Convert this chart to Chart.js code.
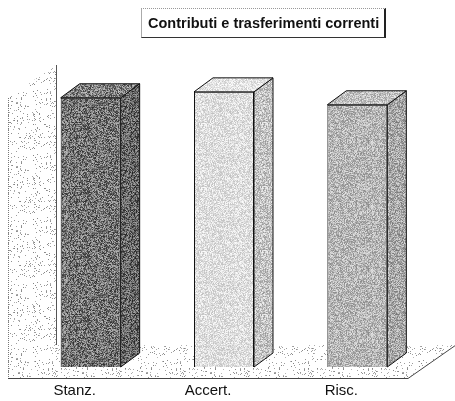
<!DOCTYPE html>
<html>
<head>
<meta charset="utf-8">
<script src="https://cdn.jsdelivr.net/npm/chart.js@4/dist/chart.umd.min.js"></script>
<style>
  html, body { margin: 0; padding: 0; background: #fff; }
  #wrap { position: relative; width: 455px; height: 401px; }
  #grafico { position: absolute; left: 0; top: 0; }
  #titolo {
    position: absolute; left: 141px; top: 8px;
    padding: 6px 5px 6px 6px;
    font: bold 14.5px "Liberation Sans", Arial, sans-serif;
    color: #111;
    border-top: 1px dotted #999;
    border-left: 1px solid #aaa;
    border-right: 2px solid #222;
    border-bottom: 1px solid #333;
    white-space: nowrap;
  }
</style>
</head>
<body>
<div id="wrap">
  <canvas id="grafico" width="455" height="401"></canvas>
  <div id="titolo">Contributi e trasferimenti correnti</div>
</div>
<script>
// Dati (valori relativi, nessun asse visibile)
const categorie = ["Stanz.", "Accert.", "Risc."];
const valori = [100, 102.2, 97.4];
const massimoAsse = 104;

// Retino a puntini (deterministico)
function hash(x, y) {
  let n = Math.imul(x, 374761393) + Math.imul(y, 668265263);
  n = Math.imul(n ^ (n >>> 13), 1274126177);
  n = n ^ (n >>> 16);
  return (n >>> 0) / 4294967296;
}
function retino(base, amp, seed) {
  const c = document.createElement("canvas");
  c.width = 64; c.height = 64;
  const g = c.getContext("2d");
  const img = g.createImageData(64, 64);
  for (let y = 0; y < 64; y++) {
    for (let x = 0; x < 64; x++) {
      let v = base + (hash(x + seed, y * 3 + seed) - 0.5) * amp;
      v = Math.max(0, Math.min(255, v));
      const i = (y * 64 + x) * 4;
      img.data[i] = img.data[i + 1] = img.data[i + 2] = v;
      img.data[i + 3] = 255;
    }
  }
  g.putImageData(img, 0, 0);
  return g.createPattern(c, "repeat");
}
function puntiniRadi(densita, seed) {
  const c = document.createElement("canvas");
  c.width = 64; c.height = 64;
  const g = c.getContext("2d");
  const img = g.createImageData(64, 64);
  for (let y = 0; y < 64; y++) {
    for (let x = 0; x < 64; x++) {
      const h = hash(x + seed, y + seed * 7);
      const v = h < densita ? 130 + h * 700 : 255;
      const i = (y * 64 + x) * 4;
      img.data[i] = img.data[i + 1] = img.data[i + 2] = Math.min(255, v);
      img.data[i + 3] = 255;
    }
  }
  g.putImageData(img, 0, 0);
  return g.createPattern(c, "repeat");
}

const ctx = document.getElementById("grafico").getContext("2d");

const fronte = [retino(115, 140, 1), retino(222, 60, 2), retino(182, 90, 3)];
const lato = [retino(100, 130, 4), retino(195, 90, 5), retino(168, 100, 6)];
const cima = [retino(128, 140, 7), retino(228, 55, 8), retino(195, 85, 9)];
const pavimento = puntiniRadi(0.08, 11);
const parete = puntiniRadi(0.07, 13);

// profondità della scena e delle barre
const prof = { dx: 48, dy: -33 };
const profBarra = { dx: 19, dy: -14 };

function poligono(c, punti, fill, stroke) {
  c.beginPath();
  c.moveTo(punti[0][0], punti[0][1]);
  for (let k = 1; k < punti.length; k++) c.lineTo(punti[k][0], punti[k][1]);
  c.closePath();
  if (fill) { c.fillStyle = fill; c.fill(); }
  if (stroke) { c.strokeStyle = stroke; c.lineWidth = 1; c.stroke(); }
}

const scena3d = {
  id: "scena3d",
  beforeDatasetsDraw(chart) {
    const c = chart.ctx;
    const a = chart.chartArea;
    const fx = -prof.dx / 3, fy = -prof.dy / 3;      // piano anteriore
    const bx = prof.dx * 2 / 3, by = prof.dy * 2 / 3; // piano posteriore
    const yTop = chart.scales.y.getPixelForValue(massimoAsse);
    c.save();
    // parete sinistra
    poligono(c, [
      [a.left + fx, yTop + fy], [a.left + bx, yTop + by],
      [a.left + bx, a.bottom + by], [a.left + fx, a.bottom + fy]
    ], parete, null);
    c.setLineDash([1, 1]);
    c.strokeStyle = "#777";
    c.beginPath();
    c.moveTo(a.left + fx + 0.5, yTop + fy);
    c.lineTo(a.left + fx + 0.5, a.bottom + fy);
    c.stroke();
    c.setLineDash([]);
    c.strokeStyle = "#555";
    c.beginPath();
    c.moveTo(a.left + bx + 0.5, yTop + by);
    c.lineTo(a.left + bx + 0.5, a.bottom + by);
    c.stroke();
    // pavimento
    poligono(c, [
      [a.left + fx, a.bottom + fy], [a.right + fx, a.bottom + fy],
      [a.right + bx, a.bottom + by], [a.left + bx, a.bottom + by]
    ], pavimento, null);
    c.strokeStyle = "#444";
    c.beginPath();
    c.moveTo(a.left + fx, a.bottom + fy + 0.5);
    c.lineTo(a.right + fx, a.bottom + fy + 0.5);
    c.lineTo(a.right + bx, a.bottom + by);
    c.stroke();
    c.restore();
  },
  afterDatasetsDraw(chart) {
    const c = chart.ctx;
    const meta = chart.getDatasetMeta(0);
    c.save();
    meta.data.forEach((bar, i) => {
      const p = bar.getProps(["x", "y", "base", "width"], true);
      const l = p.x - p.width / 2, r = p.x + p.width / 2;
      const dx = profBarra.dx, dy = profBarra.dy;
      poligono(c, [[r, p.y], [r + dx, p.y + dy], [r + dx, p.base + dy], [r, p.base]], lato[i], "#111");
      poligono(c, [[l, p.y], [l + dx, p.y + dy], [r + dx, p.y + dy], [r, p.y]], cima[i], "#111");
    });
    c.restore();
  }
};

new Chart(ctx, {
  type: "bar",
  data: {
    labels: categorie,
    datasets: [{
      data: valori,
      backgroundColor: fronte,
      borderColor: "#111",
      borderWidth: 1,
      categoryPercentage: 1,
      barPercentage: 0.45
    }]
  },
  options: {
    responsive: false,
    animation: false,
    events: [],
    layout: { padding: { top: 87, left: 24, right: 31, bottom: 0 } },
    plugins: { legend: { display: false }, title: { display: false }, tooltip: { enabled: false } },
    scales: {
      x: {
        grid: { display: false, drawTicks: false },
        border: { display: false },
        afterFit(scale) { scale.height = 34; },
        ticks: {
          color: "#111",
          padding: 15,
          labelOffset: -16,
          font: { family: "'Liberation Sans', Arial, sans-serif", size: 15 }
        }
      },
      y: { display: false, min: 0, max: massimoAsse }
    }
  },
  plugins: [scena3d]
});
</script>
</body>
</html>
